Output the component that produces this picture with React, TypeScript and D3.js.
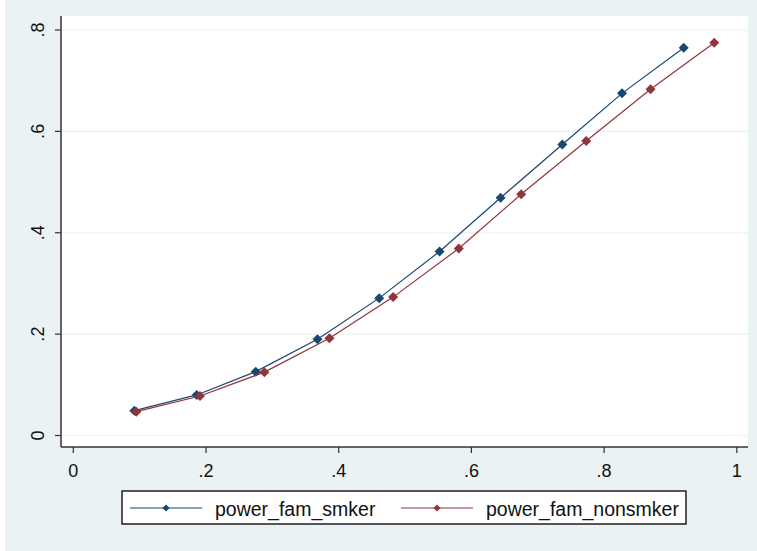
import React from 'react';
import * as d3 from 'd3';

// values
const smkerX = [0.092, 0.186, 0.275, 0.368, 0.461, 0.552, 0.644, 0.737, 0.827, 0.92];
const smkerY = [0.049, 0.08, 0.126, 0.19, 0.271, 0.363, 0.469, 0.574, 0.675, 0.765];
const nonsmkerX = [0.095, 0.191, 0.288, 0.386, 0.482, 0.581, 0.675, 0.773, 0.87, 0.966];
const nonsmkerY = [0.047, 0.078, 0.125, 0.192, 0.273, 0.369, 0.476, 0.581, 0.683, 0.775];
const xTicks = [0, 0.2, 0.4, 0.6, 0.8, 1];
const yTicks = [0, 0.2, 0.4, 0.6, 0.8];
const seriesNames = ['power_fam_smker', 'power_fam_nonsmker'];
const seriesColors = ['#1a476f', '#90353b'];

const W = 757, H = 551;
const plot = {left: 61, right: 748, top: 16, bottom: 447};
const font = '"Liberation Sans", Arial, sans-serif';

//stata prints .2 rather than 0.2
const fmt = (v: number) => v === 0 ? '0' : v === 1 ? '1' : d3.format('.1f')(v).replace(/^0/, '');

export default function App(){
    const xScale = d3.scaleLinear().domain([0, 1]).range([73.3, 736.8]);
    const yScale = d3.scaleLinear().domain([0, 0.8]).range([435.5, 30]);

    const series = [
        smkerX.map((x, i) => [x, smkerY[i]] as [number, number]),
        nonsmkerX.map((x, i) => [x, nonsmkerY[i]] as [number, number]),
    ];

    const line = d3.line<[number, number]>().x(d => xScale(d[0])).y(d => yScale(d[1]));
    // diamonds = squares turned 45 degrees
    const marker = d3.symbol().type(d3.symbolSquare).size(50)();
    const smallMarker = d3.symbol().type(d3.symbolSquare).size(26)();

    const legendY = 508;
    const legendKeys = [130, 401];

    return (
        <div style={{position: 'fixed', left: 0, top: 0}}>
            <svg width={W} height={H} style={{display: 'block'}}>
                <rect x={0} y={0} width={W} height={H} fill="#ffffff"/>
                <rect x={5} y={0} width={W - 5} height={H} fill="#eaf2f3"/>
                <rect x={plot.left} y={plot.top} width={plot.right - plot.left} height={plot.bottom - plot.top} fill="#ffffff"/>

                {/* grid lines */}
                {yTicks.map(t => (
                    <line key={'g' + t} x1={plot.left} x2={plot.right} y1={yScale(t)} y2={yScale(t)}
                        stroke="#eaf2f3" strokeWidth={1.2}/>
                ))}

                {/* series */}
                {series.map((s, i) => (
                    <g key={'s' + i}>
                        <path d={line(s) || ''} fill="none" stroke={seriesColors[i]} strokeWidth={1.2}/>
                        {s.map((d, j) => (
                            <path key={j} d={marker} fill={seriesColors[i]}
                                transform={`translate(${xScale(d[0])},${yScale(d[1])}) rotate(45)`}/>
                        ))}
                    </g>
                ))}

                {/* axes */}
                <line x1={plot.left} x2={plot.left} y1={plot.top} y2={plot.bottom} stroke="#333" strokeWidth={1.5}/>
                <line x1={plot.left} x2={plot.right} y1={plot.bottom} y2={plot.bottom} stroke="#333" strokeWidth={1.5}/>
                {yTicks.map(t => (
                    <g key={'y' + t}>
                        <line x1={55} x2={plot.left} y1={yScale(t)} y2={yScale(t)} stroke="#333" strokeWidth={1.2}/>
                        <text transform={`translate(44,${yScale(t)}) rotate(-90)`} textAnchor="middle"
                            fontFamily={font} fontSize={18} fill="#111">{fmt(t)}</text>
                    </g>
                ))}
                {xTicks.map(t => (
                    <g key={'x' + t}>
                        <line x1={xScale(t)} x2={xScale(t)} y1={plot.bottom} y2={453} stroke="#333" strokeWidth={1.2}/>
                        <text x={xScale(t)} y={477} textAnchor="middle"
                            fontFamily={font} fontSize={18} fill="#111">{fmt(t)}</text>
                    </g>
                ))}

                {/* legend */}
                <rect x={122} y={491} width={564} height={33} fill="#ffffff" stroke="#111" strokeWidth={1.4}/>
                {seriesNames.map((name, i) => (
                    <g key={'l' + i}>
                        <line x1={legendKeys[i]} x2={legendKeys[i] + 72} y1={legendY} y2={legendY} stroke={seriesColors[i]} strokeWidth={1.2}/>
                        <path d={smallMarker} fill={seriesColors[i]}
                            transform={`translate(${legendKeys[i] + 36},${legendY}) rotate(45)`}/>
                        <text x={legendKeys[i] + 85} y={515.5} fontFamily={font} fontSize={19.5} fill="#111">{name}</text>
                    </g>
                ))}
            </svg>
        </div>
    );
}
